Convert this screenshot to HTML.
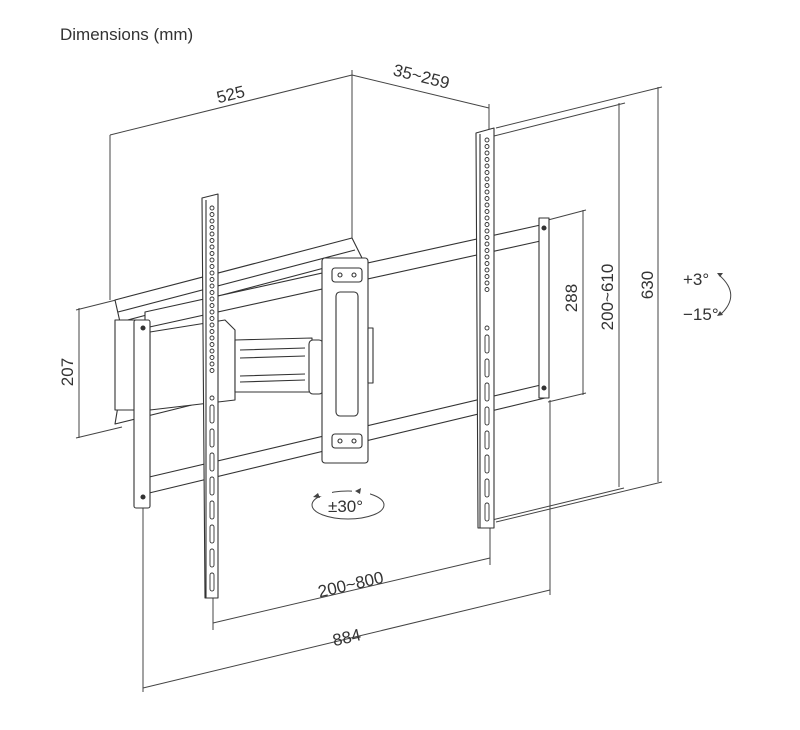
<!DOCTYPE html>
<html><head><meta charset="utf-8"><style>
html,body{margin:0;padding:0;background:#fff;}
svg{display:block}
text{font-family:"Liberation Sans",sans-serif;fill:#333}
</style></head><body>
<svg width="800" height="730" viewBox="0 0 800 730" xmlns="http://www.w3.org/2000/svg">
<text x="60" y="40" font-size="17">Dimensions (mm)</text>
<g stroke="#444" stroke-width="1" fill="none">
<line x1="110" y1="135" x2="110" y2="300"/>
<line x1="352" y1="70" x2="352" y2="238"/>
<line x1="110" y1="135" x2="352" y2="75"/>
<line x1="352" y1="75" x2="489" y2="108"/>
<line x1="489" y1="104" x2="489" y2="130"/>
<line x1="496" y1="128" x2="662" y2="87"/>
<line x1="658" y1="87" x2="658" y2="482"/>
<line x1="496" y1="522" x2="662" y2="482"/>
<line x1="490" y1="137" x2="625" y2="103"/>
<line x1="619" y1="103" x2="619" y2="487"/>
<line x1="492" y1="520" x2="624" y2="488"/>
<line x1="548" y1="220" x2="586" y2="210"/>
<line x1="583" y1="210" x2="583" y2="395"/>
<line x1="548" y1="402" x2="586" y2="393"/>
<line x1="76" y1="310" x2="116" y2="300"/>
<line x1="79" y1="308" x2="79" y2="438"/>
<line x1="76" y1="438" x2="122" y2="427"/>
<line x1="213" y1="598" x2="213" y2="630"/>
<line x1="490" y1="528" x2="490" y2="565"/>
<line x1="213" y1="623" x2="490" y2="558"/>
<line x1="143" y1="508" x2="143" y2="692"/>
<line x1="550" y1="400" x2="550" y2="595"/>
<line x1="143" y1="688" x2="550" y2="590"/>
</g>
<text font-size="17" transform="translate(232,100) rotate(-14)" text-anchor="middle">525</text>
<text font-size="17" transform="translate(420,82) rotate(14)" text-anchor="middle">35~259</text>
<text font-size="17" transform="translate(653,285) rotate(-90)" text-anchor="middle">630</text>
<text font-size="17" transform="translate(613,297) rotate(-90)" text-anchor="middle">200~610</text>
<text font-size="17" transform="translate(577,298) rotate(-90)" text-anchor="middle">288</text>
<text font-size="17" transform="translate(73,372) rotate(-90)" text-anchor="middle">207</text>
<text font-size="17" transform="translate(352,590) rotate(-13)" text-anchor="middle">200~800</text>
<text font-size="17" transform="translate(348,643) rotate(-13)" text-anchor="middle">884</text>
<ellipse cx="348" cy="505" rx="36" ry="14" fill="none" stroke="#444"/>
<rect x="312" y="488" width="20" height="8" fill="#fff"/>
<rect x="352" y="488" width="18" height="8" fill="#fff"/>
<path d="M318 493 l-5 4 l7 1z M355 491 l6 -3 l-1 6z" fill="#444"/>
<text x="328" y="512" font-size="17">±30°</text>
<text x="683" y="285" font-size="17">+3°</text>
<text x="683" y="320" font-size="17">−15°</text>
<path d="M719 275 Q742 295 720 315" fill="none" stroke="#444"/>
<path d="M717 273 l6 0 l-3 4z M717 316 l6 -1 l-3 -4z" fill="#444"/>

<g stroke="#333" stroke-width="1.1" fill="#fff" stroke-linejoin="round">
<path d="M115 300 L352 238 L362 258 L120 322 Z"/>
<path d="M118 312 L355 250"/>
<path d="M118 406 L220 380 L220 398 L115 424 Z"/>
<path d="M115 320 L115 410 L140 410 L140 320 Z"/>
<path d="M150 332 L225 320 L235 330 L235 400 L150 410 Z"/>
<path d="M235 340 L312 338 L312 392 L235 392 Z"/>
<path d="M240 350 L305 348 M240 382 L305 380 M240 358 L305 356 M240 376 L305 374"/>
<rect x="309" y="340" width="14" height="54" rx="4"/>
<path d="M145 312 L545 224 L545 240 L145 328 Z"/>
<path d="M145 478 L545 384 L545 398 L145 494 Z"/>
<rect x="134" y="320" width="16" height="188" rx="2"/>
<rect x="539" y="218" width="10" height="180"/>
<circle cx="143" cy="328" r="2" fill="#333"/><circle cx="143" cy="497" r="2" fill="#333"/>
<circle cx="544" cy="228" r="2" fill="#333"/><circle cx="544" cy="388" r="2" fill="#333"/>
<rect x="322" y="258" width="46" height="205" rx="3"/>
<rect x="336" y="292" width="22" height="124" rx="4"/>
<rect x="332" y="268" width="30" height="14" rx="3"/>
<rect x="332" y="434" width="30" height="14" rx="3"/>
<circle cx="340" cy="275" r="2"/><circle cx="354" cy="275" r="2"/>
<circle cx="340" cy="441" r="2"/><circle cx="354" cy="441" r="2"/>
<rect x="368" y="328" width="5" height="55"/>
<path d="M202 198 L218 194 L218 598 L205 598 Z"/>
<path d="M206 200 L206 598"/>
<path d="M476 133 L494 128 L494 528 L478 528 Z"/>
<path d="M480 134 L480 528"/>
</g>
<g fill="none" stroke="#333" stroke-width="0.9">
<circle cx="212" cy="208" r="2"/><circle cx="212" cy="214.5" r="2"/><circle cx="212" cy="221" r="2"/><circle cx="212" cy="227.5" r="2"/><circle cx="212" cy="234" r="2"/><circle cx="212" cy="240.5" r="2"/><circle cx="212" cy="247" r="2"/><circle cx="212" cy="253.5" r="2"/><circle cx="212" cy="260" r="2"/><circle cx="212" cy="266.5" r="2"/><circle cx="212" cy="273" r="2"/><circle cx="212" cy="279.5" r="2"/><circle cx="212" cy="286" r="2"/><circle cx="212" cy="292.5" r="2"/><circle cx="212" cy="299" r="2"/><circle cx="212" cy="305.5" r="2"/><circle cx="212" cy="312" r="2"/><circle cx="212" cy="318.5" r="2"/><circle cx="212" cy="325" r="2"/><circle cx="212" cy="331.5" r="2"/><circle cx="212" cy="338" r="2"/><circle cx="212" cy="344.5" r="2"/><circle cx="212" cy="351" r="2"/><circle cx="212" cy="357.5" r="2"/><circle cx="212" cy="364" r="2"/><circle cx="212" cy="370.5" r="2"/>
<circle cx="212" cy="398" r="2"/>
<circle cx="487" cy="140" r="2"/><circle cx="487" cy="146.5" r="2"/><circle cx="487" cy="153" r="2"/><circle cx="487" cy="159.5" r="2"/><circle cx="487" cy="166" r="2"/><circle cx="487" cy="172.5" r="2"/><circle cx="487" cy="179" r="2"/><circle cx="487" cy="185.5" r="2"/><circle cx="487" cy="192" r="2"/><circle cx="487" cy="198.5" r="2"/><circle cx="487" cy="205" r="2"/><circle cx="487" cy="211.5" r="2"/><circle cx="487" cy="218" r="2"/><circle cx="487" cy="224.5" r="2"/><circle cx="487" cy="231" r="2"/><circle cx="487" cy="237.5" r="2"/><circle cx="487" cy="244" r="2"/><circle cx="487" cy="250.5" r="2"/><circle cx="487" cy="257" r="2"/><circle cx="487" cy="263.5" r="2"/><circle cx="487" cy="270" r="2"/><circle cx="487" cy="276.5" r="2"/><circle cx="487" cy="283" r="2"/><circle cx="487" cy="289.5" r="2"/>
<circle cx="487" cy="328" r="2"/>
<rect x="210" y="405" width="4" height="18" rx="2"/><rect x="210" y="429" width="4" height="18" rx="2"/><rect x="210" y="453" width="4" height="18" rx="2"/><rect x="210" y="477" width="4" height="18" rx="2"/><rect x="210" y="501" width="4" height="18" rx="2"/><rect x="210" y="525" width="4" height="18" rx="2"/><rect x="210" y="549" width="4" height="18" rx="2"/><rect x="210" y="573" width="4" height="18" rx="2"/>
<rect x="485" y="335" width="4" height="18" rx="2"/><rect x="485" y="359" width="4" height="18" rx="2"/><rect x="485" y="383" width="4" height="18" rx="2"/><rect x="485" y="407" width="4" height="18" rx="2"/><rect x="485" y="431" width="4" height="18" rx="2"/><rect x="485" y="455" width="4" height="18" rx="2"/><rect x="485" y="479" width="4" height="18" rx="2"/><rect x="485" y="503" width="4" height="18" rx="2"/>
</g>
</svg>
</body></html>
